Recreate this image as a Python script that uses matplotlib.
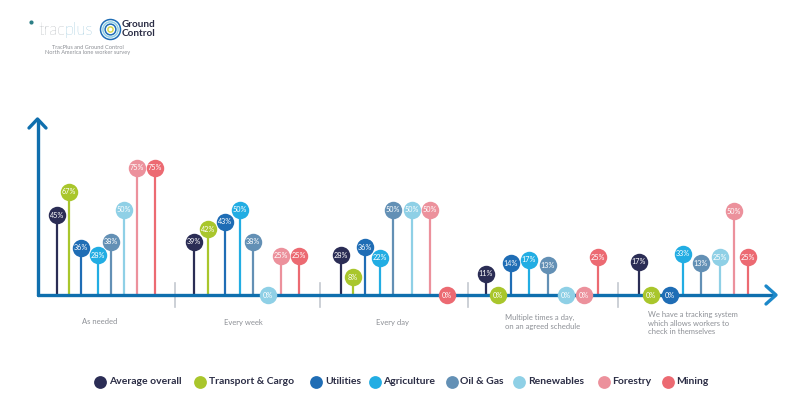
import matplotlib.pyplot as plt
import numpy as np

plt.rcParams['font.family'] = 'Lato'

# Sectors, in the order they stand in each group
sectors = ["Average overall", "Transport & Cargo", "Utilities", "Agriculture",
           "Oil & Gas", "Renewables", "Forestry", "Mining"]
colors = ["#2b2d55", "#a9c62c", "#1f6db5", "#22ade3", "#6390b5", "#8fd0e6", "#ec919c", "#ec6a72"]

# Horizontal place of each stem, one row per group
positions = [[57, 69, 81, 98, 111, 124, 137, 155],
             [194, 208, 225, 240, 253, 268, 281, 299],
             [341, 353, 365, 380, 393, 412, 430, 447],
             [486, 498, 511, 529, 548, 566, 584, 598],
             [639, 651, 670, 683, 701, 720, 734, 748]]

# Stem height as drawn, the stems do not follow the printed numbers exactly
heights = [[80, 103, 47, 40, 53, 85, 127, 127],
           [53, 66, 73, 85, 53, 0, 39, 39],
           [40, 18, 48, 37, 85, 85, 85, 0],
           [21, 0, 32, 35, 30, 0, 0, 38],
           [33, 0, 0, 41, 32, 38, 84, 38]]

# Printed percentages
percents = [[45, 67, 36, 28, 38, 50, 75, 75],
            [39, 42, 43, 50, 38, 0, 25, 25],
            [28, 8, 36, 22, 50, 50, 50, 0],
            [11, 0, 14, 17, 13, 0, 0, 25],
            [17, 0, 0, 33, 13, 25, 50, 25]]

plt.figure(figsize=(8.01, 4), dpi=100)
plt.axes([0, 0, 1, 1])
plt.xlim(0, 801)
plt.ylim(-105, 295)
plt.axis('off')

# Axes with their arrows
axis_color = "#0f6fae"
plt.plot([37.5, 772], [0, 0], color=axis_color, lw=2.4, solid_capstyle='round', zorder=2)
plt.plot([37.5, 37.5], [0, 175], color=axis_color, lw=2.4, solid_capstyle='round', zorder=2)
plt.plot([29, 37.5, 46], [167, 176, 167], color=axis_color, lw=2.4, solid_capstyle='round', zorder=2)
plt.plot([766, 776, 766], [9, 0, -9], color="#1c88c9", lw=2.4, solid_capstyle='round', zorder=2)

# Dividers between groups
for x in [175, 320, 468, 618]:
    plt.plot([x, x], [-12, 12], color="#c3c8cf", lw=1.2, zorder=1)

# Stems and heads
for g in range(5):
    for s in range(8):
        plt.plot([positions[g][s]] * 2, [0, heights[g][s]], color=colors[s], lw=1.6, zorder=1)
        plt.scatter(positions[g][s], heights[g][s], s=158, color=colors[s], linewidths=0, zorder=3)
        plt.text(positions[g][s], heights[g][s], f"{percents[g][s]}%", color="white", fontsize=5.2,
                 ha='center', va='center', zorder=4)

# Group names
gray = "#8d9096"
plt.text(100, -27, "As needed", color=gray, fontsize=5.5, ha='center', va='center')
plt.text(243, -27, "Every week", color=gray, fontsize=5.5, ha='center', va='center')
plt.text(392, -27, "Every day", color=gray, fontsize=5.5, ha='center', va='center')
plt.text(505, -27, "Multiple times a day,\non an agreed schedule", color=gray, fontsize=5.5,
         ha='left', va='center', linespacing=1.2)
plt.text(648, -28, "We have a tracking system\nwhich allows workers to\ncheck in themselves", color=gray,
         fontsize=5.5, ha='left', va='center', linespacing=1.2)

# Legend
legend_dots = [100, 200, 316, 375, 452, 519, 604, 668]
legend_text = [109, 209, 325, 383, 460, 528, 612, 676]
for s in range(8):
    plt.scatter(legend_dots[s], -86.5, s=85, color=colors[s], linewidths=0)
    plt.text(legend_text[s], -86.5, sectors[s], color="#2b2d45", fontsize=7.5, fontweight='bold',
             ha='left', va='center')

# Logos and heading
plt.text(38, 265, "trac", color="#7f858c", fontsize=12, ha='left', va='center', fontweight='light')
plt.text(64, 265, "plus", color="#4f9fc2", fontsize=12, ha='left', va='center', fontweight='light')
plt.scatter(31, 273, s=9, color="#2c7f86", linewidths=0)
for size, c in zip([207, 120, 60, 14], ["#1f6db5", "#8fd0e6", "#1f6db5", "#d9d84f"]):
    plt.scatter(110, 266, s=size, color="white", edgecolors=c, linewidths=1.1)
plt.text(122, 266, "Ground\nControl", color="#2b2d45", fontsize=7.2, fontweight='bold', ha='left',
         va='center', linespacing=0.9)
plt.text(88, 245, "TracPlus and Ground Control\nNorth America lone worker survey", color=gray,
         fontsize=4.1, ha='center', va='center', linespacing=1.15)

plt.savefig("out.png", dpi=100)
